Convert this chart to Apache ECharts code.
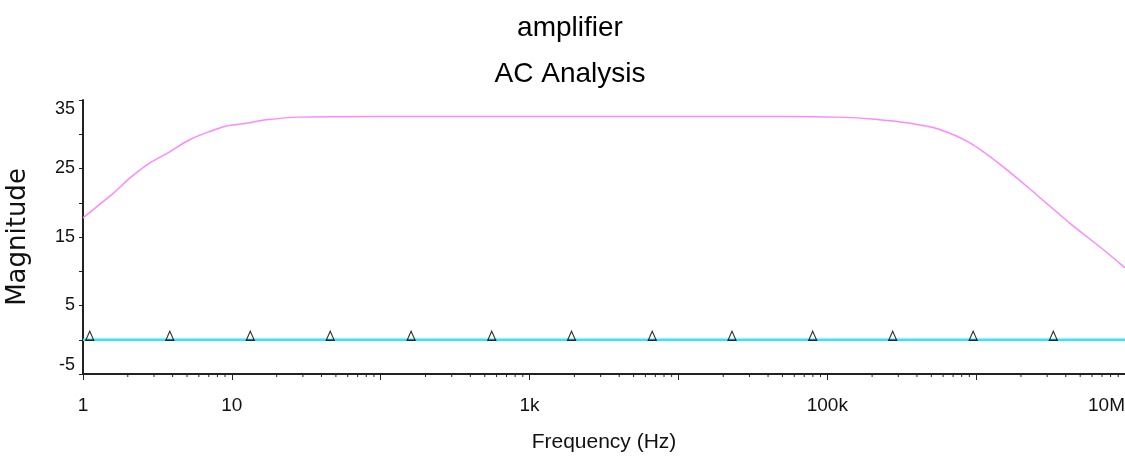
<!DOCTYPE html>
<html>
<head>
<meta charset="utf-8">
<script src="https://cdn.jsdelivr.net/npm/echarts@6/dist/echarts.min.js"></script>
<style>
  html, body { margin: 0; padding: 0; background: #fff; }
  #chart { width: 1125px; height: 466px; }
</style>
</head>
<body>
<div id="chart"></div>
<script>
// magnitude trace (pink)
const magFreq = [1, 1.3, 1.6, 2.06, 2.8, 3.8, 5.2, 7.1, 9.2, 12.5, 17, 28, 100, 1000, 10000, 50000,
                 117000, 208000, 362000, 550000, 914000, 1550000, 2570000, 4270000, 7200000, 10000000];
const magValue = [17.8, 19.8, 21.4, 23.6, 25.8, 27.4, 29.2, 30.4, 31.2, 31.6, 32.1, 32.5, 32.6, 32.6, 32.6, 32.6,
                  32.5, 32.2, 31.6, 30.8, 28.7, 25.1, 21.1, 17.0, 13.1, 10.5];

// flat trace (cyan) and its triangle markers
const flatFreq = [1, 10000000];
const flatValue = [0, 0];
const markerFreq = [1.11, 3.83, 13.3, 45.8, 160, 557, 1914, 6670, 22900, 79800, 275000, 955000, 3300000];

// axis labels
const xLabels = { 1: '1', 10: '10', 1000: '1k', 100000: '100k', 10000000: '10M' };
const yLabels = [-5, 5, 15, 25, 35];

// minor ticks on the log axis (2..9 in each decade)
const minorMult = [2, 3, 4, 5, 6, 7, 8, 9];
const decades = [1, 10, 100, 1000, 10000, 100000, 1000000];

const sans = "'Liberation Sans', Arial, sans-serif";

let minorTicks = [];
decades.forEach(d => minorMult.forEach(m => minorTicks.push([d * m, -5])));

let chart = echarts.init(document.getElementById('chart'));
let option = {
    animation: false,
    title: {
        text: 'amplifier\nAC Analysis',
        left: 565,
        top: 0,
        textAlign: 'center',
        textStyle: {
            fontFamily: sans,
            fontSize: 28,
            fontWeight: 'normal',
            lineHeight: 46,
            color: '#000'
        }
    },
    grid: { left: 83, right: 0, top: 100, bottom: 92, outerBoundsMode: 'none', containLabel: false },
    xAxis: {
        type: 'log',
        logBase: 10,
        min: 1,
        max: 10000000,
        splitNumber: 7,
        name: 'Frequency (Hz)',
        nameLocation: 'middle',
        nameGap: 58,
        nameTextStyle: { fontFamily: sans, fontSize: 21, color: '#111' },
        axisLine: { onZero: false, lineStyle: { color: '#222', width: 2 } },
        axisTick: { length: 6, lineStyle: { color: '#222' } },
        splitLine: { show: false },
        axisLabel: {
            margin: 22,
            fontFamily: sans,
            fontSize: 19,
            color: '#111',
            alignMaxLabel: 'right',
            formatter: v => xLabels[Math.round(v)] || ''
        }
    },
    yAxis: {
        type: 'value',
        min: -5,
        max: 35,
        interval: 5,
        name: 'Magnitude',
        nameLocation: 'middle',
        nameGap: 52,
        nameTextStyle: { fontFamily: "'DejaVu Sans', sans-serif", fontSize: 26, color: '#111' },
        axisLine: { show: true, onZero: false, lineStyle: { color: '#222', width: 2 } },
        axisTick: { show: true, length: 4, lineStyle: { color: '#222' } },
        splitLine: { show: false },
        axisLabel: {
            margin: 8,
            fontFamily: sans,
            fontSize: 18,
            color: '#111',
            verticalAlignMaxLabel: 'top',
            verticalAlignMinLabel: 'bottom',
            formatter: v => yLabels.includes(v) ? String(v) : ''
        }
    },
    series: [
        {
            name: 'magnitude',
            type: 'line',
            data: magFreq.map((f, i) => [f, magValue[i]]),
            smooth: 0.3,
            showSymbol: false,
            lineStyle: { color: '#ff88ff', width: 1.5 }
        },
        {
            name: 'flat',
            type: 'line',
            data: flatFreq.map((f, i) => [f, flatValue[i]]),
            showSymbol: false,
            lineStyle: { color: '#33e8f2', width: 2.5 }
        },
        {
            name: 'markers',
            type: 'scatter',
            data: markerFreq.map(f => [f, 0]),
            symbol: 'triangle',
            symbolSize: [8, 9],
            symbolOffset: [0, -4],
            itemStyle: { color: 'rgba(255,255,255,0)', borderColor: '#000', borderWidth: 1.2 },
            z: 5
        },
        {
            name: 'minorTicks',
            type: 'custom',
            silent: true,
            data: minorTicks,
            renderItem: (params, api) => {
                const p = api.coord([api.value(0), api.value(1)]);
                return {
                    type: 'line',
                    shape: { x1: p[0], y1: p[1], x2: p[0], y2: p[1] + 3 },
                    style: { stroke: '#222', lineWidth: 1 }
                };
            },
            z: 6
        }
    ]
};
option && chart.setOption(option);
</script>
</body>
</html>
